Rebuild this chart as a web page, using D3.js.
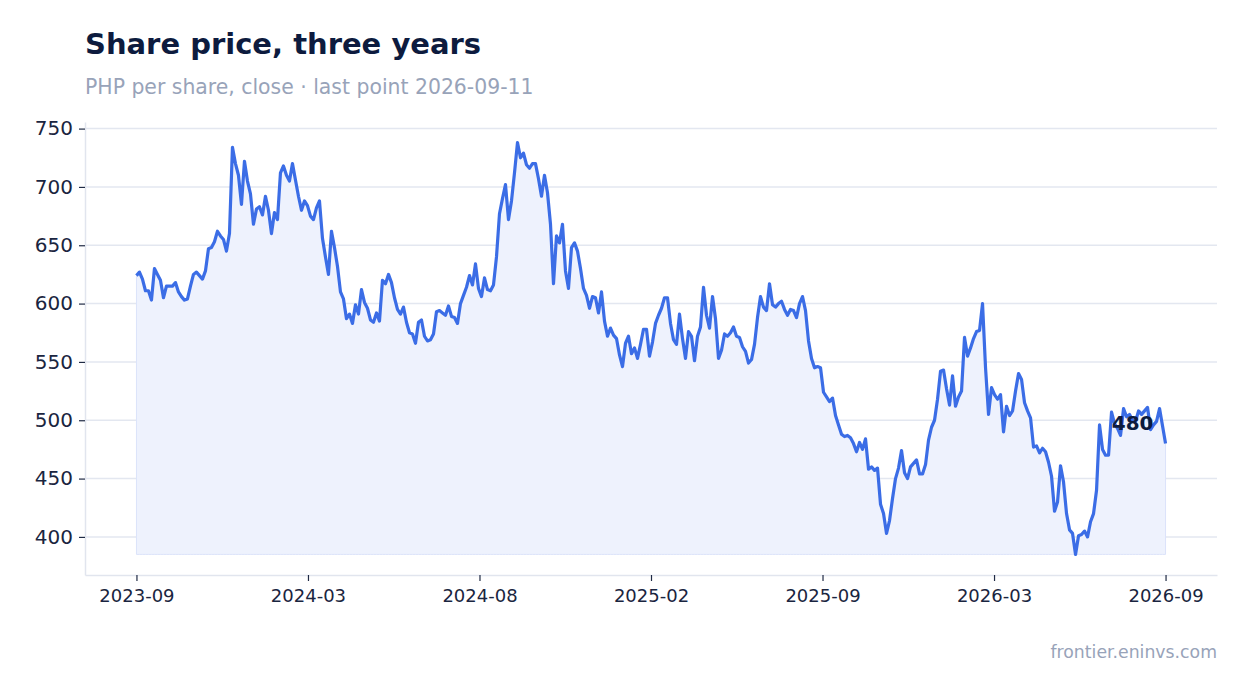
<!DOCTYPE html>
<html>
<head>
<meta charset="utf-8">
<script src="https://cdn.jsdelivr.net/npm/d3@7"></script>
<style>
  body { margin: 0; background: #ffffff; font-family: 'DejaVu Sans', sans-serif; }
  svg { display: block; }
</style>
</head>
<body>
<svg id="chart" width="1247" height="693"></svg>
<script>
// ##### Data
var titleText = 'Share price, three years';
var subtitleText = 'PHP per share, close \u00b7 last point 2026-09-11';
var sourceText = 'frontier.eninvs.com';

// Tick labels, evenly spaced from the first to the last point
var tickLabels = ['2023-09', '2024-03', '2024-08', '2025-02', '2025-09', '2026-03', '2026-09'];
var yTicks = [400, 450, 500, 550, 600, 650, 700, 750];

// Close prices, sampled evenly from 2023-09 to 2026-09-11
var prices = [
  624, 627, 621, 611, 611, 603, 630, 625, 620, 605,
  615, 615, 615, 618, 610, 606, 603, 604, 615, 625,
  627, 624, 621, 628, 647, 648, 653, 662, 658, 655,
  645, 660, 734, 720, 710, 685, 722, 705, 694, 668,
  681, 683, 676, 692, 680, 660, 678, 672, 712, 718,
  710, 705, 720, 706, 692, 680, 688, 684, 675, 672,
  682, 688, 656, 640, 625, 662, 648, 632, 610, 604,
  587, 591, 583, 599, 591, 612, 601, 596, 586, 584,
  592, 585, 620, 617, 625, 618, 605, 595, 591, 597,
  584, 575, 574, 566, 584, 586, 572, 568, 569, 574,
  593, 594, 592, 590, 598, 589, 588, 583, 600, 607,
  614, 624, 616, 634, 613, 606, 622, 612, 611, 616,
  640, 677, 690, 702, 672, 688, 712, 738, 725, 729,
  719, 716, 720, 720, 707, 692, 710, 695, 668, 617,
  658, 652, 668, 628, 613, 648, 652, 645, 630, 613,
  607, 596, 606, 605, 592, 610, 585, 572, 579, 573,
  570, 556, 546, 566, 572, 557, 562, 553, 565, 578,
  578, 555, 567, 583, 590, 596, 605, 605, 583, 569,
  565, 591, 570, 553, 576, 572, 551, 572, 580, 614,
  590, 579, 606, 587, 553, 560, 574, 572, 575, 580,
  572, 571, 563, 559, 549, 552, 565, 588, 606, 597,
  594, 617, 599, 597, 600, 602, 595, 590, 595, 594,
  588, 600, 606, 594, 568, 553, 545, 546, 545, 524,
  520, 516, 519, 504, 496, 488, 486, 487, 485, 480,
  473, 481, 475, 484, 458, 460, 457, 459, 428, 420,
  403, 414, 433, 450, 459, 474, 455, 450, 460, 463,
  466, 454, 454, 462, 483, 494, 500, 518, 542, 543,
  527, 513, 538, 512, 520, 525, 571, 555, 562, 570,
  576, 577, 600, 545, 505, 528, 522, 518, 522, 490,
  512, 504, 508, 525, 540, 535, 515, 508, 502, 477,
  478, 472, 476, 473, 464, 452, 422, 430, 461, 447,
  420, 406, 403, 385, 401, 402, 405, 400, 413, 420,
  440, 496, 475, 470, 470, 507, 497, 493, 487, 510,
  503, 505, 500, 499, 508, 505, 508, 511, 492, 496,
  499, 510, 495, 480
];

var data = prices.map(function(v, i) { return { i: i, value: v }; });


// ##### Layout
var svg = d3.select('#chart');
var margin = { left: 85, right: 30, top: 122, bottom: 118 };
var width = 1247, height = 693;
var plotW = width - margin.left - margin.right;
var plotH = height - margin.top - margin.bottom;

var lastIndex = prices.length - 1;
var minV = d3.min(prices), maxV = d3.max(prices);
var padY = (maxV - minV) * 0.05;

// NOTE both domains get 5% of padding on each side
var x = d3.scaleLinear()
  .domain([-lastIndex * 0.05, lastIndex * 1.05])
  .range([margin.left, margin.left + plotW]);

var y = d3.scaleLinear()
  .domain([minV - padY, maxV + padY])
  .range([margin.top + plotH, margin.top]);


// ##### Titles
svg.append('text')
  .attr('x', 85).attr('y', 54)
  .attr('fill', '#0d1b3e')
  .style('font-size', '29px')
  .style('font-weight', 'bold')
  .text(titleText);

svg.append('text')
  .attr('x', 85).attr('y', 94)
  .attr('fill', '#98a3b9')
  .style('font-size', '20.4px')
  .text(subtitleText);


// ##### Grid and axes
svg.append('g')
  .attr('class', 'grid')
  .selectAll('line')
  .data(yTicks)
  .enter()
  .append('line')
  .attr('x1', margin.left)
  .attr('x2', margin.left + plotW)
  .attr('y1', function(d) { return y(d); })
  .attr('y2', function(d) { return y(d); })
  .attr('stroke', '#e3e7f0')
  .attr('stroke-width', 1.5);

var yAxis = svg.append('g')
  .attr('transform', 'translate(' + margin.left + ',0)')
  .call(d3.axisLeft(y).tickValues(yTicks).tickSize(6).tickSizeOuter(0).tickPadding(6));

var xTickPos = tickLabels.map(function(d, k) { return lastIndex * k / (tickLabels.length - 1); });

var xAxis = svg.append('g')
  .attr('transform', 'translate(0,' + (margin.top + plotH) + ')')
  .call(d3.axisBottom(x)
    .tickValues(xTickPos)
    .tickFormat(function(d, k) { return tickLabels[k]; })
    .tickSize(6).tickSizeOuter(0).tickPadding(8));

[yAxis, xAxis].forEach(function(ax) {
  ax.select('.domain').attr('stroke', '#e1e5ee').attr('stroke-width', 1.5);
  ax.selectAll('.tick line').attr('stroke', '#1f2a44').attr('stroke-width', 1.2);
  ax.selectAll('.tick text')
    .attr('fill', '#1a2540')
    .style('font-family', "'DejaVu Sans', sans-serif");
});
yAxis.selectAll('.tick text').style('font-size', '20px');
xAxis.selectAll('.tick text').style('font-size', '18px');


// ##### Area and line
var area = d3.area()
  .x(function(d) { return x(d.i); })
  .y0(y(minV))
  .y1(function(d) { return y(d.value); });

svg.append('path')
  .datum(data)
  .attr('d', area)
  .attr('fill', '#eef2fd')
  .attr('stroke', '#dbe3fa')
  .attr('stroke-width', 1);

var line = d3.line()
  .x(function(d) { return x(d.i); })
  .y(function(d) { return y(d.value); });

svg.append('path')
  .datum(data)
  .attr('d', line)
  .attr('fill', 'none')
  .attr('stroke', '#3b6de6')
  .attr('stroke-width', 3.2)
  .attr('stroke-linejoin', 'round');

// Label of the last point
var last = data[lastIndex];
svg.append('text')
  .attr('x', x(last.i) - 12)
  .attr('y', y(last.value) - 14)
  .attr('text-anchor', 'end')
  .attr('fill', '#0d1b3e')
  .style('font-size', '20px')
  .style('font-weight', 'bold')
  .text(last.value);


// ##### Source
svg.append('text')
  .attr('x', 1217).attr('y', 658)
  .attr('text-anchor', 'end')
  .attr('fill', '#98a3b9')
  .style('font-size', '17.3px')
  .text(sourceText);
</script>
</body>
</html>
